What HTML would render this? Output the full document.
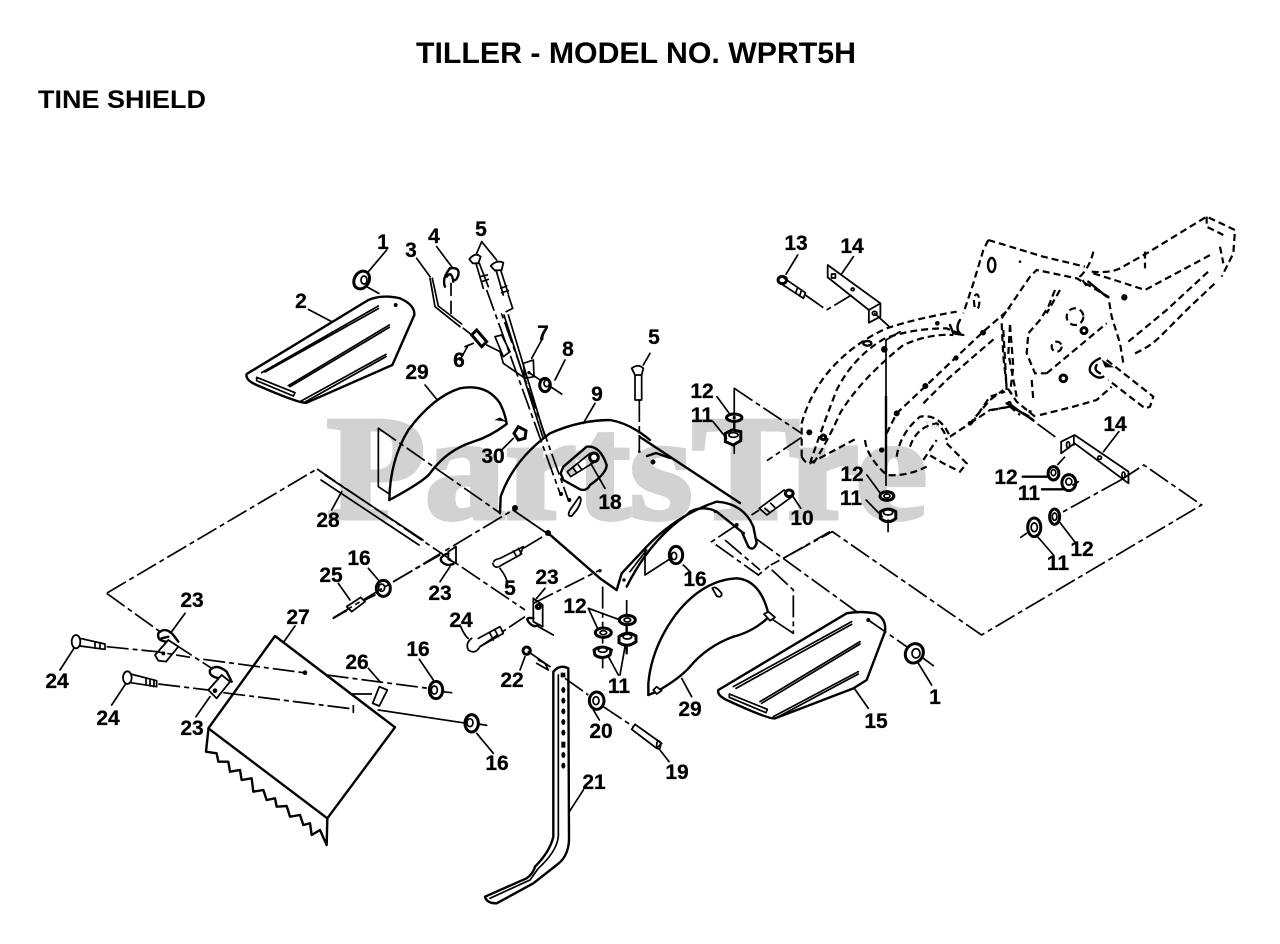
<!DOCTYPE html>
<html><head><meta charset="utf-8"><style>
html,body{margin:0;padding:0;background:#fff}
svg{display:block}
svg *{vector-effect:non-scaling-stroke}
.l{fill:none;stroke:#000;stroke-width:1.7;stroke-linejoin:round;stroke-linecap:round}
.t{fill:none;stroke:#000;stroke-width:2.4;stroke-linejoin:round;stroke-linecap:round}
.w{fill:#fff;stroke:#000;stroke-width:1.8;stroke-linejoin:round}
.n{fill:#fff;stroke:#000;stroke-width:3}
.d{fill:none;stroke:#000;stroke-width:2.2;stroke-dasharray:7 4}
.c{fill:none;stroke:#000;stroke-width:1.7;stroke-dasharray:22 4 5 4}
.b{fill:#000;stroke:none}
.lab text{font:bold 21px "Liberation Sans",sans-serif;fill:#000;stroke:#000;stroke-width:.25;text-anchor:middle}
</style></head><body>
<svg xmlns="http://www.w3.org/2000/svg" width="1280" height="944" viewBox="0 0 1280 944">
<rect width="1280" height="944" fill="#fff"/>
<text x="327" y="518" font-family="Liberation Serif,serif" font-weight="bold" font-size="148" fill="#d2d2d2" stroke="#d2d2d2" stroke-width="5" textLength="600" lengthAdjust="spacingAndGlyphs">PartsTre</text>
<text x="924" y="429" font-family="Liberation Sans,sans-serif" font-size="11" fill="#d2d2d2">TM</text>

<text x="416" y="63" font-family="Liberation Sans,sans-serif" font-weight="bold" font-size="30" textLength="440" lengthAdjust="spacingAndGlyphs">TILLER - MODEL NO. WPRT5H</text>
<text x="38" y="108" font-family="Liberation Sans,sans-serif" font-weight="bold" font-size="25" textLength="168" lengthAdjust="spacingAndGlyphs">TINE SHIELD</text>

<!-- upper left parts -->
<g transform="translate(230,220) scale(.33333)">
 <path class="t" d="M50,462 L415,240 Q460,222 510,235 Q555,255 553,285 L487,435 L230,548 Q210,552 80,495 Q45,480 50,462Z"/>
 <path class="l" d="M95,458 L445,258 M105,456 L445,266 M175,497 L478,315 M180,500 L478,322 M210,545 L468,403 M222,548 L468,410"/>
 <path class="l" d="M80,472 L195,518 L190,528 L80,482Z"/>
 <circle class="b" cx="497" cy="255" r="6"/>
 <path class="l" stroke-dasharray="14 6" d="M410,200 L460,228"/>
 <ellipse class="n" cx="395" cy="180" rx="22" ry="28" transform="rotate(30 395 180)"/>
 <ellipse class="l" cx="402" cy="180" rx="9" ry="12"/>
 <path class="l" d="M415,155 L470,90 M235,268 L305,305 M560,115 L600,170 M620,80 L665,140 M755,65 L740,100 M755,65 L800,120"/>
 <path class="l" d="M600,175 L615,260 L690,320 M607,175 L625,258 L695,312"/>
 <path class="t" d="M660,145 Q635,175 645,200 M660,145 Q690,140 685,165 Q680,180 675,180 M650,170 Q665,150 670,185"/>
 <path class="l" stroke-dasharray="12 6" d="M663,190 L663,280"/>
 <path class="n" d="M725,345 L740,330 L770,365 L755,380Z"/>
 <path class="l" d="M700,325 L725,345 M770,375 L810,395 L820,430 L885,475 M705,380 L730,370 M690,420 L715,375"/>
 <path class="w" d="M718,118 Q735,95 752,110 L745,130 L728,130Z M782,138 Q800,118 820,128 L815,150 L795,152Z"/>
 <path class="l" d="M738,130 L760,205 M748,130 L775,200 M798,150 L820,225 M812,150 L835,222"/>
 <path class="l" d="M750,170 L772,165 M755,185 L775,178 M812,205 L830,198 M815,218 L835,212"/>
 <path class="c" d="M770,210 L990,820"/>
 <path class="c" d="M835,225 L848,265 L815,282 L1015,840"/>
 <path class="l" d="M822,285 L938,650 M835,285 L945,650 M795,350 L815,345 L840,395 L820,410Z"/>
 <path class="l" d="M880,430 L910,420 L912,470 L885,475Z M905,415 L935,360"/>
 <circle class="b" cx="897" cy="458" r="5"/>
 <path class="l" d="M897,458 L995,522 M975,480 L1005,420"/>
 <ellipse class="n" cx="945" cy="495" rx="16" ry="20"/><ellipse class="l" cx="950" cy="490" rx="8" ry="10"/>
 <path class="t" d="M478,840 Q480,720 535,630 Q610,530 690,505 Q770,490 810,550 Q825,580 830,610"/>
 <path class="t" d="M830,612 Q780,650 730,665 Q650,690 600,760 Q580,785 478,840"/>
 <path class="l" d="M585,495 L622,540"/>
 <path class="b" d="M793,600 L832,606 L810,592Z"/>
 <path class="n" d="M852,640 L865,620 L888,632 L885,655 L865,660Z"/>
 <path class="l" d="M815,690 L850,655 M445,625 L445,800 L475,820"/>
 <path class="t" d="M810,880 L812,830 Q850,720 960,640 Q1050,600 1140,600 Q1200,610 1260,660"/>
 <circle class="b" cx="993" cy="822" r="6"/><circle class="b" cx="1018" cy="840" r="6"/>
 <path class="w" d="M1048,830 Q1060,838 1040,870 L1025,888 Q1010,890 1020,870Z"/>
 <path class="t" d="M1000,740 L1070,680 Q1110,675 1130,735 Q1130,760 1080,795 Q1070,815 1050,808 L1000,780 L992,760Z"/>
 <circle cx="1092" cy="712" r="13" class="n"/><path class="l" d="M1080,700 L1012,755 L1022,770 L1095,725 M1030,745 L1040,758 M1045,735 L1055,748"/>
 <path class="l" d="M1082,730 L1125,805"/>
 <path class="l" d="M1060,610 L1095,550"/>
 <path class="w" d="M1205,445 Q1225,430 1240,445 L1235,465 L1215,465Z"/>
 <path class="l" d="M1240,435 L1260,400 M1215,465 L1215,540 M1235,465 L1235,540 L1215,540"/>
 <path class="c" d="M1228,540 L1228,695"/>
 <path class="l" d="M335,815 L305,870"/>
 <circle class="b" cx="1228" cy="695" r="4"/>
</g>

<!-- frame left part -->
<g transform="translate(790,300) scale(.33333)">
 <path class="d" d="M35,470 L35,370 Q60,280 120,210 Q190,130 290,85 Q380,55 500,35"/>
 <path class="d" d="M60,490 Q90,400 140,270 Q190,170 285,115 Q370,85 470,85 Q500,100 520,100"/>
 <path class="d" d="M70,490 Q110,430 150,340 Q210,240 340,135 Q420,100 490,105"/>
 <path class="d" d="M35,470 Q45,490 60,490 L200,415"/>
 <path class="d" d="M225,420 Q230,470 290,525 Q350,530 410,500"/>
 <path class="d" d="M290,400 L320,340 L405,260 L500,170 L580,95 L660,25"/>
 <path class="d" d="M400,310 L470,240 L550,170 L620,110"/>
 <path class="d" d="M480,410 L540,370 L600,300 L640,270 M540,370 L600,330 L660,320 L690,345"/>
 <path class="d" d="M640,90 L650,270 M660,75 L670,200 L660,280"/>
 <path class="d" d="M320,470 Q330,400 390,350 Q450,340 480,410 M360,440 Q380,380 440,370 Q465,390 470,420 M400,480 L440,420"/>
 <path class="d" d="M470,430 L530,490 L510,515 L460,490 L410,460"/>
 <path class="t" d="M480,75 L490,100 L520,105 M510,60 Q495,85 510,100"/>
 <ellipse class="t" cx="232" cy="130" rx="12" ry="7"/>
 <circle class="b" cx="58" cy="397" r="9"/><circle class="n" cx="100" cy="412" r="7"/>
 <circle class="b" cx="442" cy="70" r="7"/><circle class="b" cx="283" cy="148" r="10"/><circle class="b" cx="275" cy="450" r="8"/><circle class="b" cx="320" cy="340" r="9"/><circle class="b" cx="406" cy="258" r="9"/><circle class="b" cx="498" cy="174" r="8"/><circle class="b" cx="578" cy="98" r="8"/><circle class="b" cx="540" cy="370" r="7"/><circle class="b" cx="660" cy="315" r="7"/>
 <path class="l" d="M288,120 L288,290 M288,120 L330,95"/>
 <path class="t" d="M288,290 L288,520"/>
 <path class="l" stroke-dasharray="12 5" d="M288,520 L288,570"/>
</g>

<!-- frame right part -->
<g transform="translate(960,210) scale(.33333)">
 <path class="d" d="M85,90 L250,140 L375,170 M400,125 Q390,170 360,200 L385,235"/>
 <path class="d" d="M85,90 L70,120 L40,220 L10,310"/>
 <path class="d" d="M395,185 Q450,190 480,175 L560,130 L740,20 L825,60 L820,130 L785,200"/>
 <path class="d" d="M400,190 Q480,215 555,240 L760,130"/>
 <path class="d" d="M505,395 L620,300 L750,180 M525,430 Q570,410 600,380 L690,290 L770,215"/>
 <path class="d" d="M555,125 L555,175 M740,20 L740,50 L790,75 M780,110 L790,160"/>
 <path class="d" d="M125,325 L210,200 L230,180 L350,205 L445,260 L455,320 L480,400 L490,460"/>
 <path class="d" d="M285,240 L265,290 L240,330 L205,370 L200,430 L225,490 L260,490 M215,510 L220,570 M300,240 L260,310"/>
 <path class="d" d="M260,490 L440,340"/>
 <path class="d" d="M125,340 L130,440 L140,530 L170,575 L225,620 M150,345 L145,430 L170,560"/>
 <path class="d" d="M35,640 L90,560 L135,545 M95,600 L150,590 L210,620"/>
 <path class="t" d="M140,580 L220,630 M385,215 L440,260"/>
 <path class="d" d="M240,615 L340,590 L410,570 L455,530"/>
 <path class="d" d="M440,450 L580,560 L570,590 L555,595 L445,510"/>
 <path class="t" d="M420,445 Q385,460 390,485 Q410,510 430,500 M410,465 Q400,480 420,490"/>
 <path class="b" d="M425,448 L462,472 L435,472Z"/>
 <ellipse class="t" cx="95" cy="165" rx="11" ry="21"/>
 <ellipse class="d" cx="50" cy="275" rx="8" ry="22"/>
 <circle class="b" cx="180" cy="155" r="4"/><circle class="n" cx="493" cy="262" r="5"/>
 <circle class="d" cx="345" cy="320" r="25"/><circle class="n" cx="372" cy="362" r="9"/><circle class="d" cx="290" cy="410" r="15"/><circle class="n" cx="310" cy="505" r="10"/>
 <circle class="b" cx="70" cy="368" r="8"/><circle class="b" cx="148" cy="580" r="7"/><circle class="b" cx="210" cy="605" r="5"/>
</g>

<!-- hardware on the frame side -->
<g transform="translate(640,200) scale(.38462,.33333)">
 <path class="c" d="M960,610 L1085,715"/>
 <path class="c" d="M245,565 L420,700 M420,712 L330,782"/>
 <path class="l" d="M245,760 L245,565"/>
 <path class="t" d="M245,640 L245,700"/>
 <ellipse class="n" cx="245" cy="653" rx="20" ry="11"/><ellipse class="b" cx="245" cy="653" rx="4" ry="6"/>
 <path class="n" d="M222,700 L240,690 L262,695 L262,722 L242,735 L222,725Z"/>
 <ellipse class="l" cx="243" cy="705" rx="12" ry="7"/>
 <ellipse class="n" cx="642" cy="888" rx="18" ry="13"/><ellipse class="l" cx="642" cy="888" rx="8" ry="6"/>
 <path class="n" d="M625,935 Q645,920 665,935 L665,955 Q645,975 625,955Z"/><ellipse class="l" cx="645" cy="937" rx="12" ry="8"/>
 <path class="l" d="M645,960 L645,995 M200,590 L232,640 M190,665 L225,715 M590,825 L625,880 M588,900 L630,950"/>
 <path class="w" d="M488,195 L625,310 L625,350 L595,368 L595,330 L488,232Z"/>
 <path class="l" d="M595,330 L625,310"/>
 <rect class="l" x="498" y="222" width="10" height="12"/><circle class="l" cx="553" cy="268" r="4"/><circle class="l" cx="610" cy="340" r="6"/>
 <path class="l" d="M525,220 L555,170 M610,340 L650,382"/>
 <path class="c" d="M430,285 L485,330 L550,285"/>
 <circle class="n" cx="370" cy="240" r="11"/><path class="l" d="M375,235 L430,278 L425,295 L368,252 M410,262 L405,278 M420,270 L415,288"/>
 <path class="l" d="M380,222 L410,165"/>
 <path class="w" d="M1095,725 L1130,705 L1270,815 L1270,850 L1130,730 L1095,760Z"/>
 <path class="l" d="M1128,710 L1128,735"/><circle class="l" cx="1195" cy="773" r="5"/><ellipse class="l" cx="1113" cy="735" rx="4" ry="10"/><ellipse class="l" cx="1257" cy="825" rx="4" ry="9"/>
 <path class="l" d="M1205,755 L1245,695"/>
 <ellipse class="n" cx="1075" cy="820" rx="14" ry="20"/><ellipse class="l" cx="1075" cy="818" rx="6" ry="9"/>
 <ellipse class="n" cx="1115" cy="848" rx="18" ry="24"/><ellipse class="l" cx="1115" cy="845" rx="8" ry="10"/>
 <path class="c" d="M1105,770 L1085,795"/>
 <path class="t" d="M995,830 L1062,830 M1045,868 L1100,868"/>
 <path class="l" d="M1125,855 L1140,845"/>
 <path class="c" d="M1250,840 L1085,945"/>
 <ellipse class="n" cx="1078" cy="950" rx="13" ry="23"/><ellipse class="l" cx="1078" cy="950" rx="6" ry="11"/>
 <ellipse class="n" cx="1025" cy="982" rx="17" ry="28"/><ellipse class="l" cx="1025" cy="982" rx="8" ry="13"/>
 <path class="l" d="M1005,1000 L990,1012 M1030,1005 L1075,1065 M1090,965 L1130,1025"/>
 <path class="c" d="M1250,840 L1310,795 L1460,915 L888,1305 L500,995 L340,1095"/>
 <path class="l" d="M375,870 L395,890 L330,945 L310,925Z M325,925 L335,935 M340,910 L350,922"/>
 <circle class="n" cx="388" cy="880" r="10"/>
 <path class="l" d="M398,890 L418,925"/>
 <path class="c" d="M310,930 L290,945"/>
</g>

<!-- lower left parts -->
<g transform="translate(40,540) scale(.33333)">
 <path class="t" d="M705,288 L1065,562 L862,835 L505,565Z"/>
 <path class="t" d="M505,570 L498,635 L530,640 L535,665 L565,665 L570,695 L600,690 L605,720 L635,715 L640,755 L670,750 L680,780 L705,775 L710,800 L740,798 L750,830 L780,825 L790,855 L810,850 L815,885 L840,870 L860,915 L862,835"/>
 <path class="c" d="M200,160 L360,275 M400,310 L515,385"/>
 <path class="l" d="M395,275 L435,220 M732,305 L765,258 M60,390 L105,320 M215,495 L258,430 M468,530 L510,470"/>
 <path class="t" d="M385,305 Q350,305 355,280 Q375,258 400,285 L415,305 M365,295 L385,290"/>
 <path class="w" d="M345,345 L385,300 L415,320 L378,365 L355,362Z"/><circle class="b" cx="370" cy="340" r="6"/>
 <path class="t" d="M540,415 Q505,410 510,390 Q530,370 560,395 L575,425"/>
 <path class="w" d="M505,450 L545,405 L570,425 L530,475Z"/><circle class="b" cx="525" cy="452" r="7"/>
 <ellipse class="w" cx="108" cy="305" rx="13" ry="20"/>
 <path class="l" d="M120,295 L195,312 L195,328 L120,318 M165,305 L165,325 M180,308 L180,327"/>
 <ellipse class="w" cx="262" cy="413" rx="13" ry="19"/>
 <path class="l" d="M272,402 L350,422 L350,440 L272,428 M318,415 L318,435 M330,418 L330,438 M342,420 L342,440"/>
 <path class="c" d="M200,320 L350,335 L450,352 M490,358 L790,398"/>
 <path class="c" d="M355,432 L505,450 M550,458 L940,507"/>
 <circle class="b" cx="795" cy="398" r="7"/><path class="l" d="M940,497 L940,517"/>
 <path class="c" d="M860,405 L1165,445"/>
 <path class="c" d="M930,462 L1010,462"/>
 <path class="w" d="M1018,440 L1042,450 L1018,498 L998,490Z"/>
 <path class="l" d="M1020,425 L985,385 M1015,510 L1280,550"/>
 <ellipse class="n" cx="1188" cy="450" rx="20" ry="26"/><ellipse class="l" cx="1183" cy="450" rx="9" ry="12"/>
 <path class="l" d="M1208,455 L1235,458 M1180,420 L1138,358"/>
 <ellipse class="n" cx="1295" cy="550" rx="20" ry="26"/><ellipse class="l" cx="1290" cy="548" rx="9" ry="12"/>
 <path class="l" d="M1315,552 L1340,556 M1310,580 L1360,640"/>
 <path class="w" d="M920,200 L962,172 L975,185 L935,215Z"/>
 <path class="l" d="M880,235 L920,212 M975,180 L1005,165 M930,180 L895,130"/>
 <ellipse class="n" cx="1030" cy="145" rx="21" ry="24"/><ellipse class="l" cx="1025" cy="143" rx="9" ry="11"/>
 <path class="l" d="M1015,120 L985,85"/>
 <path class="c" d="M1060,125 L1200,45"/>
 <path class="w" d="M1225,35 L1248,20 L1248,70 L1225,58Z"/>
 <path class="t" d="M1225,40 Q1195,50 1205,65 Q1220,80 1240,72"/>
 <path class="l" d="M1230,80 L1200,125"/>
</g>

<!-- long shield lines -->
<path class="c" d="M378,428 L500,513"/>
<path class="c" d="M333,618 L513,510"/>
<path class="l" d="M513,510 L548,534"/>
<path class="l" d="M325,475 L423,540 M321,480 L419,545"/>
<path class="c" d="M107,593 L317,469"/>
<path class="c" d="M317,469 L525,610"/>
<path class="t" d="M640,437 L740,503"/>
<path class="c" d="M755,538 L857,612"/>
<circle class="b" cx="515" cy="508" r="3"/><circle class="b" cx="548" cy="533" r="3"/>
<path class="t" d="M647,456 L656,453 L670,458"/><circle class="b" cx="653" cy="462" r="2.5"/>

<!-- lower centre parts -->
<g transform="translate(470,490) scale(.33333)">
 <circle class="b" cx="390" cy="242" r="5"/>
 <path class="t" d="M235,130 L390,265 L440,300"/>
 <path class="l" d="M72,215 Q70,210 90,205 L160,170 L150,195 L95,225 Q75,240 68,220 M130,183 L140,200 M145,175 L155,192"/>
 <path class="l" d="M90,235 Q105,255 110,270"/>
 <path class="c" d="M160,175 L235,130"/>
 <path class="w" d="M190,325 L218,345 L218,410 L190,395Z"/><circle class="n" cx="205" cy="350" r="6"/>
 <path class="t" d="M190,385 Q165,380 175,395 Q190,415 205,405"/>
 <path class="l" d="M200,325 L225,295 M205,410 L250,435"/>
 <path class="c" d="M190,340 L390,240"/>
 <path class="c" d="M30,470 L165,380"/>
 <path class="l" d="M5,445 Q-15,460 -5,480 Q15,495 30,470 L100,430 L90,410 L25,445 M60,430 L70,450 M75,420 L85,440"/>
 <path class="l" d="M-5,445 Q-15,440 -30,405"/>
 <path class="l" d="M355,355 L445,388 M355,355 L385,420 M410,490 L445,555 M465,470 L450,555"/>
 <path class="c" d="M398,290 L398,535"/>
 <path class="c" d="M470,330 L470,420"/>
 <path class="t" d="M470,400 L470,490"/>
 <ellipse class="n" cx="472" cy="390" rx="24" ry="14"/><ellipse class="l" cx="472" cy="390" rx="10" ry="6"/>
 <ellipse class="n" cx="400" cy="428" rx="24" ry="14"/><ellipse class="l" cx="400" cy="428" rx="10" ry="6"/>
 <path class="n" d="M372,480 Q395,462 424,480 L420,495 Q395,510 375,495Z"/>
 <path class="n" d="M447,440 Q472,420 498,438 L498,455 Q472,475 447,458Z"/>
 <ellipse class="l" cx="472" cy="440" rx="13" ry="7"/><ellipse class="l" cx="398" cy="480" rx="13" ry="7"/>
 <path class="t" d="M440,300 L455,250 L530,170 Q620,75 740,35 Q820,40 850,110 L860,160 Q850,185 835,170 L815,125 L740,65 Q700,45 660,65 L650,75 Q540,150 470,290"/>
 <path class="l" d="M480,245 L530,180 M650,75 L690,55"/>
 <circle class="b" cx="735" cy="65" r="4"/><circle class="b" cx="462" cy="270" r="5"/><circle class="b" cx="820" cy="130" r="5"/>
 <path class="c" d="M800,105 L725,155 L865,255 L895,230 L970,300 L970,430"/>
 <path class="c" d="M765,150 L870,240"/>
 <circle class="b" cx="800" cy="105" r="6"/>
 <path class="l" d="M970,430 L895,380 M525,180 L525,255 L610,200"/>
 <path class="l" d="M640,225 L660,245"/>
 <ellipse class="n" cx="618" cy="195" rx="20" ry="26"/><ellipse class="l" cx="612" cy="198" rx="8" ry="11"/>
 <path class="t" d="M535,615 L535,580 Q545,470 620,370 Q700,270 800,265 Q870,270 895,370"/>
 <path class="t" d="M895,382 Q850,425 790,440 Q710,470 660,530 Q630,565 560,605 L535,615"/>
 <path class="w" d="M727,295 Q735,285 755,310 Q755,325 740,318Z"/><path class="w" d="M882,372 L895,365 L915,382 L900,392Z"/><path class="w" d="M550,600 L560,590 L575,602 L560,612Z"/>
 <path class="l" d="M635,565 L665,620"/>
 <path class="t" d="M745,600 L1130,370 Q1170,362 1215,370 Q1250,385 1245,425 L1190,570 L1150,595 L915,685 Q900,690 770,630 Q740,615 745,600Z"/>
 <path class="l" d="M790,590 L1145,395 M798,595 L1145,403 M870,635 L1170,455 M875,640 L1170,462 M910,680 L1165,545 M918,684 L1165,552"/>
 <path class="l" d="M778,612 L892,658 L888,668 L778,622Z"/>
 <circle class="b" cx="1195" cy="390" r="6"/>
 <path class="c" d="M1195,390 L1310,470"/>
 <path class="c" d="M940,205 L1080,125"/>
 <ellipse class="n" cx="1333" cy="490" rx="26" ry="30" transform="rotate(30 1333 490)"/><ellipse class="l" cx="1338" cy="490" rx="12" ry="14"/>
 <path class="l" d="M1360,505 L1390,527 M1345,520 L1385,585 M1155,598 L1195,655"/>
 <circle class="n" cx="170" cy="482" r="11"/>
 <path class="l" d="M175,485 L240,530 M205,510 L225,520 L235,540 L200,520 M150,540 L165,500"/>
 <path class="t" d="M250,885 L250,545 Q270,522 295,535 L297,1050 Q295,1100 260,1125 L190,1180 L80,1240 Q50,1240 45,1220 L170,1165 Q190,1150 195,1130 Q240,1085 250,1040 L250,885"/>
 <path class="l" d="M265,555 L265,1040 Q260,1085 205,1135 L180,1170 L60,1225"/>
 <path class="b" d="M272,548 h14 v14 h-14z"/>
 <ellipse cx="280" cy="600" rx="6" ry="9" class="b"/><ellipse cx="280" cy="632" rx="6" ry="9" class="b"/><ellipse cx="280" cy="664" rx="6" ry="9" class="b"/><ellipse cx="280" cy="696" rx="6" ry="9" class="b"/><ellipse cx="280" cy="728" rx="6" ry="9" class="b"/><rect x="274" y="755" width="12" height="18" class="b"/><ellipse cx="280" cy="795" rx="6" ry="9" class="b"/><ellipse cx="280" cy="827" rx="6" ry="9" class="b"/>
 <path class="l" d="M298,965 L340,900"/>
 <path class="c" d="M285,565 L355,615"/>
 <ellipse class="n" cx="380" cy="632" rx="22" ry="26"/><ellipse class="l" cx="378" cy="632" rx="9" ry="12"/>
 <path class="l" d="M370,660 L388,690"/>
 <path class="c" d="M400,650 L490,710"/>
 <path class="w" d="M495,703 L575,760 L560,775 L485,718Z"/><ellipse class="l" cx="566" cy="765" rx="6" ry="12"/>
 <path class="l" d="M570,780 L597,815"/>
</g>

<g class="lab">
<text x="383" y="249">1</text><text x="301" y="308">2</text><text x="411" y="257">3</text><text x="434" y="243">4</text><text x="481" y="236">5</text><text x="459" y="367">6</text><text x="543" y="340">7</text><text x="568" y="356">8</text><text x="417" y="379">29</text><text x="597" y="401">9</text>
<text x="654" y="344">5</text><text x="493" y="463">30</text><text x="610" y="509">18</text><text x="328" y="527">28</text><text x="359" y="565">16</text><text x="331" y="582">25</text><text x="440" y="600">23</text><text x="510" y="595">5</text><text x="547" y="584">23</text><text x="461" y="627">24</text>
<text x="575" y="613">12</text><text x="619" y="693">11</text><text x="512" y="687">22</text><text x="695" y="586">16</text><text x="802" y="525">10</text><text x="690" y="716">29</text><text x="935" y="704">1</text><text x="876" y="728">15</text><text x="601" y="738">20</text><text x="677" y="779">19</text>
<text x="594" y="789">21</text><text x="418" y="656">16</text><text x="357" y="669">26</text><text x="298" y="624">27</text><text x="192" y="607">23</text><text x="57" y="688">24</text><text x="108" y="725">24</text><text x="192" y="735">23</text><text x="497" y="770">16</text><text x="702" y="398">12</text>
<text x="702" y="422">11</text><text x="796" y="250">13</text><text x="852" y="253">14</text><text x="852" y="481">12</text><text x="851" y="505">11</text><text x="1115" y="431">14</text><text x="1006" y="484">12</text><text x="1029" y="500">11</text><text x="1058" y="570">11</text><text x="1082" y="556">12</text>
</g>
</svg>
</body></html>
